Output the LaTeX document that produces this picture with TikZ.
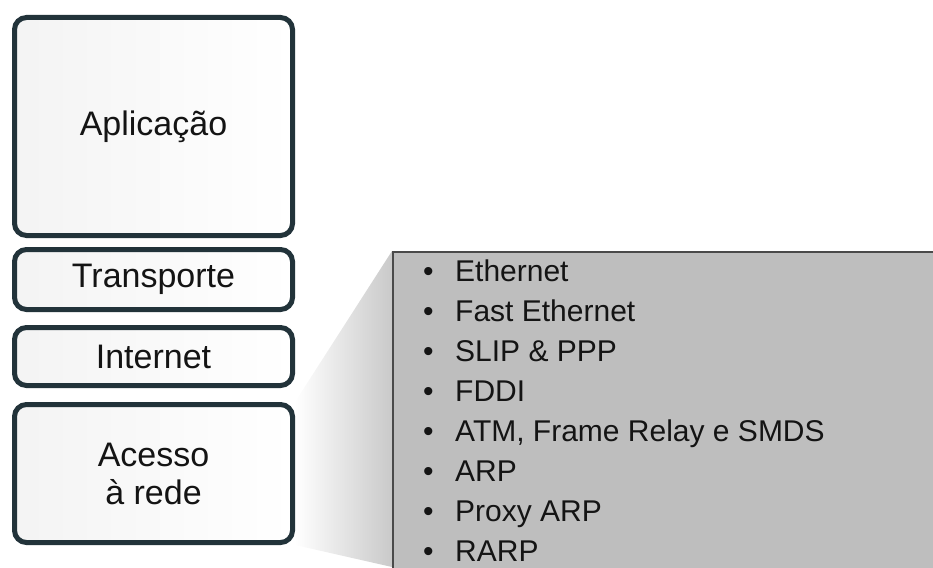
\documentclass[tikz,border=0pt]{standalone}
\usepackage{fontspec}
\setmainfont{Liberation Sans}
\usetikzlibrary{positioning}
\usetikzlibrary{backgrounds}

\definecolor{layerborder}{HTML}{22333A}
\definecolor{layertext}{HTML}{141414}
\definecolor{listgray}{HTML}{BEBEBE}
\definecolor{listborder}{HTML}{4A4A4A}

\begin{document}
\begin{tikzpicture}[x=1pt,y=-1pt,
	layer/.style={draw=layerborder, line width=5pt, rounded corners=12pt, left color=gray!9, right color=white, minimum width=278pt, text=layertext, font=\fontsize{34}{38}\selectfont, align=center, inner sep=0pt},
	listbox/.style={draw=listborder, line width=2pt, fill=listgray, anchor=north west, minimum width=600pt, minimum height=360pt},
	item/.style={anchor=base west, inner sep=0pt, text=layertext, font=\fontsize{30}{34}\selectfont}]
	\useasboundingbox (0,0) rectangle (933,567);
	\clip (0,0) rectangle (933,567);
	% camadas
	\node[layer, minimum height=218pt] (App) at (153.5,126.5) {Aplicação};
	\node[layer, minimum height=60pt, below=9pt of App] (Trans) {Transporte};
	\node[layer, minimum height=58pt, below=13pt of Trans] (Inet) {Internet};
	\node[layer, minimum height=138pt, below=14pt of Inet] (Acc) {Acesso\\à rede};
	% protocolos
	\node[listbox] (List) at (392,251) {};
	\foreach \proto [count=\i] in {Ethernet, Fast Ethernet, SLIP \& PPP, FDDI, {ATM, Frame Relay e SMDS}, ARP, Proxy ARP, RARP}
		\node[item] (Item\i) at (423, 241+40*\i) {\makebox[32pt][l]{\textbullet}\proto};
	\coordinate (Foot) at (392,567);
	\begin{scope}[on background layer]
		\shade[left color=white, right color=gray!42] (Acc.north east) -- (List.north west) -- (Foot) -- (Acc.south east) -- cycle;
	\end{scope}
\end{tikzpicture}
\end{document}
